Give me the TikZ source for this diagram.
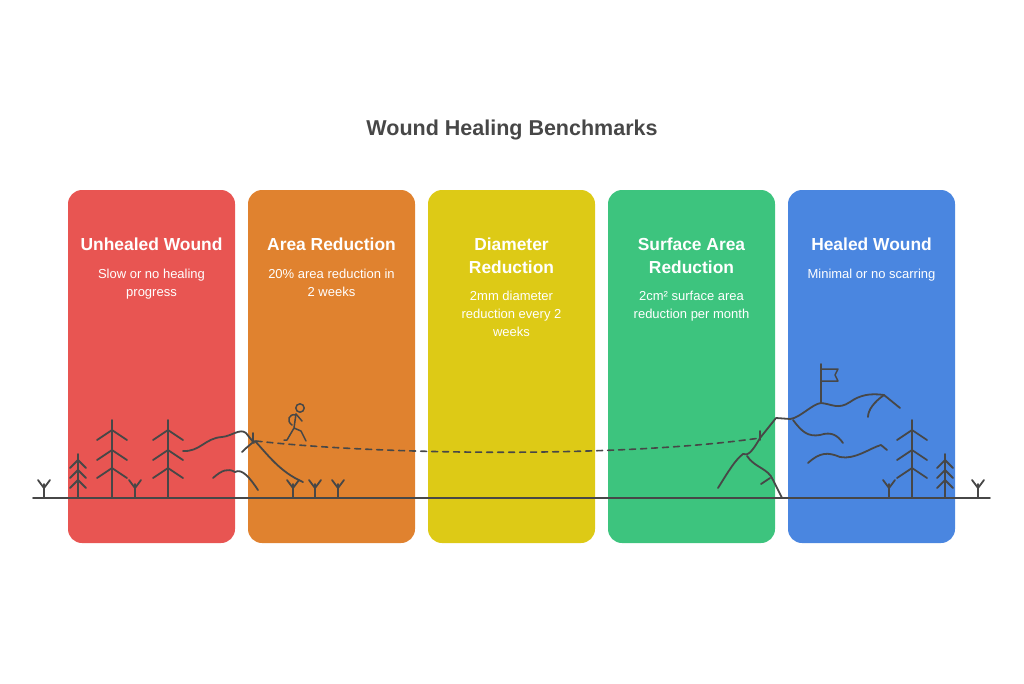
\documentclass[tikz,border=0pt]{standalone}
\usepackage{fontspec}
\setmainfont{Liberation Sans}
\begin{document}
\begin{tikzpicture}[x=1pt,y=-1pt,
  card/.style={rounded corners=14pt,draw=none},
  ttl/.style={text=white,font=\bfseries\fontsize{17.4}{23}\selectfont,align=center,anchor=north},
  dsc/.style={text=white,font=\fontsize{13}{18}\selectfont,align=center,anchor=north},
  ln/.style={draw=black!72,line width=1.8pt,line cap=round,line join=round}]
\definecolor{cr}{HTML}{E85552}\definecolor{co}{HTML}{E0822F}\definecolor{cy}{HTML}{DDCA16}
\definecolor{cg}{HTML}{3DC47E}\definecolor{cb}{HTML}{4A86E0}
\useasboundingbox (0,0) rectangle (1024,683);
\node (title) at (512,130) {\bfseries\fontsize{21.5}{26}\selectfont\color{black!72}Wound Healing Benchmarks};
\foreach \x/\c/\n in {68/cr/a,248/co/b,428/cy/c,608/cg/d,788/cb/e}
  \fill[\c,card] (\x,190) rectangle ++(167,353);
\node[ttl] (t1) at (151.5,234) {Unhealed Wound};
\node[dsc] (d1) at (151.5,266) {Slow or no healing\\progress};
\node[ttl] (t2) at (331.5,234) {Area Reduction};
\node[dsc] (d2) at (331.5,266) {20\% area reduction in\\2 weeks};
\node[ttl] (t3) at (511.5,234) {Diameter\\Reduction};
\node[dsc] (d3) at (511.5,288) {2mm diameter\\reduction every 2\\weeks};
\node[ttl] (t4) at (691.5,234) {Surface Area\\Reduction};
\node[dsc] (d4) at (691.5,288) {2cm² surface area\\reduction per month};
\node[ttl] (t5) at (871.5,234) {Healed Wound};
\node[dsc] (d5) at (871.5,266) {Minimal or no scarring};
% ground
\draw[ln] (33,498) -- (990,498);
% sprouts
\foreach \x in {44,135,293,315,338,889,978}
  \draw[ln] (\x,498) -- (\x,484) (\x-6,480) -- (\x,488) -- (\x+6,480);
% trees
\foreach \x/\t/\w/\ys in {112/420/15/{440,460,478},168/420/15/{440,460,478},912/420/15/{440,460,478}}{
  \draw[ln] (\x,498) -- (\x,\t);
  \foreach \y in \ys \draw[ln] (\x-\w,\y) -- (\x,\y-10) -- (\x+\w,\y);}
\foreach \x in {78,945}{
  \draw[ln] (\x,498) -- (\x,454);
  \foreach \y in {468,478,488} \draw[ln] (\x-8,\y) -- (\x,\y-8) -- (\x+8,\y);}
% left hills
\draw[ln] (183,451) .. controls (200,452) and (205,438) .. (222,437) .. controls (232,436) and (240,428) .. (246,433) -- (254,443);
\draw[ln] (242,452) .. controls (247,447) and (252,443) .. (255,441) .. controls (268,455) and (280,472) .. (303,482);
\draw[ln] (213,478) .. controls (222,470) and (228,468) .. (235,472) .. controls (242,468) and (250,478) .. (258,490);
\draw[ln] (253,433) -- (253,442);
% hiker
\draw[ln,line width=1.5pt] (300,408) circle (4.2);
\draw[ln,line width=1.5pt] (296,414) -- (294,428) -- (287,440) -- (284,440) (294,428) -- (301,431) -- (306,441);
\draw[ln,line width=1.5pt] (296,414) -- (302,421) (296,415) .. controls (289,413) and (286,421) .. (292,425);
% dashed trail
\coordinate (s) at (256,441); \coordinate (e) at (760,438);
\draw[ln,dash pattern=on 6pt off 5pt,line width=1.6pt] (s) .. controls (380,455) and (620,458) .. (e);
% right mountain
\draw[ln] (718,488) .. controls (728,472) and (735,460) .. (743,454) .. controls (748,456) and (752,452) .. (760,438) -- (776,418) -- (790,419) .. controls (800,418) and (812,404) .. (821,403) .. controls (832,404) and (838,410) .. (850,402) .. controls (860,395) and (870,393) .. (884,395) -- (900,408);
\draw[ln] (747,456) .. controls (755,468) and (768,468) .. (773,480) -- (782,498);
\draw[ln] (761,484) -- (770,478);
\draw[ln] (760,431) -- (760,440);
\draw[ln] (793,420) .. controls (802,432) and (808,437) .. (820,435) .. controls (832,431) and (838,436) .. (843,443);
\draw[ln] (808,463) .. controls (820,452) and (828,452) .. (840,457) .. controls (855,460) and (870,448) .. (881,445) -- (887,450);
\draw[ln] (868,417) .. controls (868,410) and (874,402) .. (884,395);
% flag
\draw[ln] (821,403) -- (821,364);
\draw[ln,line width=1.5pt] (821,369) -- (838,369) -- (835,375) -- (838,381) -- (821,381);
\end{tikzpicture}
\end{document}
